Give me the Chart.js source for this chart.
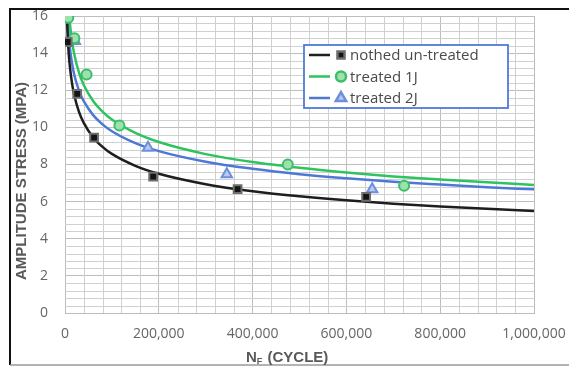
<!DOCTYPE html>
<html>
<head>
<meta charset="utf-8">
<script src="https://cdn.jsdelivr.net/npm/chart.js@4.4.1/dist/chart.umd.min.js"></script>
<style>
  body { margin: 0; background: #fff; }
  #wrap { width: 569px; height: 367px; }
</style>
</head>
<body>
<div id="wrap"><canvas id="fatigueChart" width="569" height="367"></canvas></div>
<script>
// Measured points (cycles, MPa)
const blackCycles = [5700, 26000, 62000, 188000, 368000, 642000];
const blackStress = [14.6, 11.8, 9.45, 7.35, 6.67, 6.25];
const greenCycles = [7000, 20000, 46000, 116000, 475000, 723000];
const greenStress = [15.9, 14.8, 12.85, 10.1, 8.0, 6.85];
const blueCycles = [2000, 21000, 177000, 345000, 655000];
const blueStress = [15.9, 14.65, 8.9, 7.47, 6.67];

// Trend lines
const blackFitCycles = [4000, 6000, 8000, 10000, 15000, 20000, 30000, 40000, 60000, 80000, 100000, 150000, 200000, 300000, 400000, 500000, 600000, 700000, 800000, 900000, 1000000];
const blackFitStress = [15.96, 14.76, 13.96, 13.37, 12.37, 11.70, 10.82, 10.24, 9.46, 8.95, 8.57, 7.93, 7.50, 6.94, 6.56, 6.29, 6.07, 5.89, 5.74, 5.61, 5.50];
const greenFitCycles = [9000, 12000, 15000, 20000, 30000, 40000, 60000, 80000, 100000, 150000, 200000, 300000, 400000, 500000, 600000, 700000, 800000, 900000, 1000000];
const greenFitStress = [16.0, 15.24, 14.64, 13.91, 12.93, 12.28, 11.42, 10.85, 10.42, 9.70, 9.21, 8.56, 8.13, 7.82, 7.57, 7.36, 7.19, 7.04, 6.90];
const blueFitCycles = [5300, 8000, 10000, 15000, 20000, 30000, 40000, 60000, 80000, 100000, 150000, 200000, 300000, 400000, 500000, 600000, 700000, 800000, 900000, 1000000];
const blueFitStress = [16.0, 14.93, 14.38, 13.44, 12.81, 11.97, 11.41, 10.66, 10.16, 9.79, 9.15, 8.72, 8.15, 7.77, 7.48, 7.26, 7.07, 6.92, 6.78, 6.66];

const seriesNames = ['nothed un-treated', 'treated 1J', 'treated 2J'];

// Axis ranges and gridline steps (major labelled, minor unlabelled)
const xMax = 1000000, xMajor = 200000, xMinor = 40000;
const yMax = 16, yMajor = 2, yMinor = 0.4;

function toPoints(xs, ys) {
    return xs.map((x, i) => ({ x: x, y: ys[i] }));
}

function isMajor(v, step) {
    const r = v / step;
    return Math.abs(r - Math.round(r)) < 1e-6;
}

const lineColors = ['#1e1e1e', '#2fc35f', '#4d78d6'];
const markerFill = ['#151515', '#9fe0b0', '#b9c9f0'];
const markerEdge = ['#6e6e6e', '#3cbf66', '#6f8fdc'];
const markerStyle = ['rect', 'circle', 'triangle'];

// Minor gridlines, drawn through the chart's own scales
const minorGridPlugin = {
    id: 'minorGrid',
    beforeDatasetsDraw(chart) {
        const ctx = chart.ctx;
        const a = chart.chartArea;
        const xs = chart.scales.x;
        const ys = chart.scales.y;
        ctx.save();
        ctx.strokeStyle = '#d0d0d0';
        ctx.lineWidth = 1;
        const nx = Math.round(xMax / xMinor);
        for (let i = 1; i < nx; i++) {
            const v = i * xMinor;
            if (isMajor(v, xMajor)) continue;
            const px = Math.round(xs.getPixelForValue(v)) + 0.5;
            ctx.beginPath();
            ctx.moveTo(px, a.top);
            ctx.lineTo(px, a.bottom);
            ctx.stroke();
        }
        const ny = Math.round(yMax / yMinor);
        for (let i = 1; i < ny; i++) {
            const v = i * yMinor;
            if (isMajor(v, yMajor)) continue;
            const py = Math.round(ys.getPixelForValue(v)) + 0.5;
            ctx.beginPath();
            ctx.moveTo(a.left, py);
            ctx.lineTo(a.right, py);
            ctx.stroke();
        }
        ctx.restore();
    }
};

// White background, frame, legend box and axis titles
const decorPlugin = {
    id: 'decor',
    beforeDraw(chart) {
        const ctx = chart.ctx;
        ctx.save();
        ctx.fillStyle = '#fff';
        ctx.fillRect(0, 0, chart.width, chart.height);
        ctx.restore();
    },
    afterDraw(chart) {
        const ctx = chart.ctx;
        ctx.save();

        // frame
        ctx.strokeStyle = '#111';
        ctx.lineWidth = 2;
        ctx.beginPath();
        ctx.moveTo(569, 9);
        ctx.lineTo(10, 9);
        ctx.lineTo(10, 365);
        ctx.stroke();
        ctx.strokeStyle = '#9a9a9a';
        ctx.lineWidth = 1.5;
        ctx.beginPath();
        ctx.moveTo(10, 365);
        ctx.lineTo(569, 365);
        ctx.stroke();

        // legend
        ctx.fillStyle = '#fff';
        ctx.fillRect(304, 45, 204, 63);
        ctx.strokeStyle = '#4f7bd9';
        ctx.lineWidth = 1.8;
        ctx.strokeRect(304, 45, 204, 63);
        const rows = [55, 76.5, 98];
        ctx.font = '15px "Open Sans"';
        ctx.textBaseline = 'middle';
        rows.forEach((y, i) => {
            ctx.strokeStyle = lineColors[i];
            ctx.lineWidth = 2.5;
            ctx.beginPath();
            ctx.moveTo(309, y);
            ctx.lineTo(330, y);
            ctx.stroke();
            ctx.fillStyle = markerFill[i];
            ctx.strokeStyle = markerEdge[i];
            Chart.helpers.drawPoint(ctx, {
                pointStyle: markerStyle[i], radius: i === 2 ? 6 : 5, borderWidth: 2, rotation: 0
            }, 341, y);
            ctx.fillStyle = '#4a4a4a';
            ctx.textAlign = 'left';
            ctx.fillText(seriesNames[i], 350, y + 1);
        });

        // y title
        ctx.fillStyle = '#595959';
        ctx.font = 'bold 15px "Liberation Sans"';
        ctx.textAlign = 'center';
        ctx.textBaseline = 'middle';
        ctx.translate(22, 181);
        ctx.rotate(-Math.PI / 2);
        ctx.fillText('AMPLITUDE STRESS (MPA)', 0, 0);
        ctx.setTransform(1, 0, 0, 1, 0, 0);

        // x title with subscript
        ctx.textAlign = 'left';
        ctx.textBaseline = 'alphabetic';
        ctx.font = 'bold 15px "Liberation Sans"';
        const base = 362;
        let x = 246;
        ctx.fillText('N', x, base);
        x += ctx.measureText('N').width;
        ctx.font = 'bold 9px "Liberation Sans"';
        ctx.fillText('F', x, base + 2);
        x += ctx.measureText('F').width + 1;
        ctx.font = 'bold 15px "Liberation Sans"';
        ctx.fillText(' (CYCLE)', x, base);

        ctx.restore();
    }
};

const ctx = document.getElementById('fatigueChart').getContext('2d');
new Chart(ctx, {
    type: 'scatter',
    data: {
        datasets: [
            {
                label: seriesNames[0] + ' fit',
                data: toPoints(blackFitCycles, blackFitStress),
                showLine: true, pointRadius: 0, borderColor: lineColors[0], borderWidth: 2.5,
                cubicInterpolationMode: 'monotone', order: 2
            },
            {
                label: seriesNames[1] + ' fit',
                data: toPoints(greenFitCycles, greenFitStress),
                showLine: true, pointRadius: 0, borderColor: lineColors[1], borderWidth: 2.5,
                cubicInterpolationMode: 'monotone', order: 2
            },
            {
                label: seriesNames[2] + ' fit',
                data: toPoints(blueFitCycles, blueFitStress),
                showLine: true, pointRadius: 0, borderColor: lineColors[2], borderWidth: 2.5,
                cubicInterpolationMode: 'monotone', order: 2
            },
            {
                label: seriesNames[0],
                data: toPoints(blackCycles, blackStress),
                pointStyle: markerStyle[0], pointRadius: 5.5, pointBorderWidth: 2,
                backgroundColor: markerFill[0], borderColor: markerEdge[0], order: 1
            },
            {
                label: seriesNames[1],
                data: toPoints(greenCycles, greenStress),
                pointStyle: markerStyle[1], pointRadius: 5, pointBorderWidth: 2,
                backgroundColor: markerFill[1], borderColor: markerEdge[1], order: 1
            },
            {
                label: seriesNames[2],
                data: toPoints(blueCycles, blueStress),
                pointStyle: markerStyle[2], pointRadius: 6, pointBorderWidth: 2,
                backgroundColor: markerFill[2], borderColor: markerEdge[2], order: 1
            }
        ]
    },
    options: {
        responsive: false,
        animation: false,
        layout: { padding: { left: 10, top: 16, right: 35, bottom: 0 } },
        plugins: { legend: { display: false }, tooltip: { enabled: false } },
        scales: {
            x: {
                type: 'linear',
                min: 0,
                max: xMax,
                afterFit(scale) {
                    scale.height = 54;
                    scale.paddingLeft = 0;
                    scale.paddingRight = 0;
                },
                grid: { drawTicks: false, color: '#bdbdbd' },
                border: { color: '#bdbdbd' },
                ticks: {
                    stepSize: xMajor,
                    autoSkip: false,
                    maxRotation: 0,
                    padding: 13,
                    color: '#666',
                    font: { family: '"Open Sans"', size: 14 },
                    callback: v => v.toLocaleString('en-US')
                }
            },
            y: {
                min: 0,
                max: yMax,
                afterFit(scale) {
                    scale.width = 55;
                    scale.paddingTop = 0;
                    scale.paddingBottom = 0;
                },
                grid: { drawTicks: false, color: '#bdbdbd' },
                border: { color: '#bdbdbd' },
                ticks: {
                    stepSize: yMajor,
                    autoSkip: false,
                    padding: 17,
                    color: '#666',
                    font: { family: '"Open Sans"', size: 14 }
                }
            }
        }
    },
    plugins: [decorPlugin, minorGridPlugin]
});
</script>
</body>
</html>
